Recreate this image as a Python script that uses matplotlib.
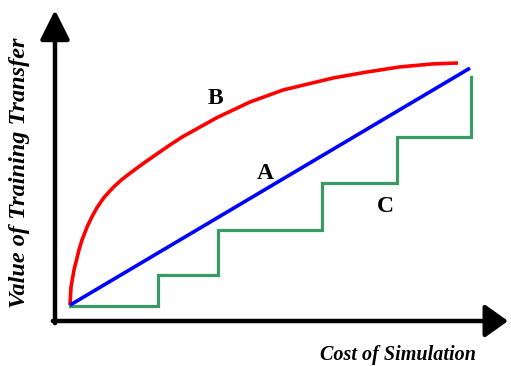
import matplotlib
matplotlib.use("Agg")
import matplotlib.pyplot as plt

# ---- data (arbitrary units: cost on x, value of training transfer on y) ----
line_a_cost = [3.75, 103.75]
line_a_value = [5.3, 84.3]

curve_b_cost = [3.75, 4.0, 4.75, 6.0, 6.75, 8.0, 9.25, 10.5, 12.25, 14.75,
                16.75, 19.0, 22.25, 25.5, 28.75, 32.0, 40.5, 48.75, 57.0,
                69.5, 78.0, 86.25, 94.5, 100.75]
curve_b_value = [5.3, 11.3, 17.0, 23.7, 27.0, 31.3, 34.8, 37.8, 41.2, 44.8,
                 47.2, 49.5, 52.7, 55.7, 58.7, 61.5, 67.8, 73.0, 77.0,
                 81.0, 83.0, 84.7, 85.7, 86.0]

steps_c_cost = [3.75, 25.75, 40.75, 66.75, 85.5, 104.0]
steps_c_value = [5.0, 15.3, 30.3, 46.0, 61.3, 81.3]

labels = ["A", "B", "C"]
label_cost = [52.5, 40.0, 82.5]
label_value = [49.3, 74.0, 38.0]

x_title = "Cost of Simulation"
y_title = "Value of Training Transfer"

# ---- figure ----
W, H = 511, 366
fig = plt.figure(figsize=(W / 100, H / 100), dpi=100)
ax = fig.add_axes([0, 0, 1, 1])
# pixel x = 55 + 4*cost ; pixel y = 321 - 3*value
ax.set_xlim(-55 / 4, (W - 55) / 4)
ax.set_ylim((321 - H) / 3, 321 / 3)
ax.axis("off")

serif = ["Liberation Serif", "DejaVu Serif"]

ax.plot(curve_b_cost, curve_b_value, color="#ff0000", lw=2.6,
        solid_capstyle="butt", solid_joinstyle="round", zorder=3)
ax.plot(line_a_cost, line_a_value, color="#0000ff", lw=2.6,
        solid_capstyle="butt", zorder=3)
ax.plot(steps_c_cost, steps_c_value, color="#3a9a66", lw=2.3,
        drawstyle="steps-post", solid_joinstyle="miter", zorder=2)

for t, cx, cy in zip(labels, label_cost, label_value):
    ax.text(cx, cy, t, fontsize=17, fontweight="bold", family=serif,
            ha="center", va="center")

# axes arrows
x0, y0 = 0.0, 0.0
ax.annotate("", xy=(x0, (321 - 10) / 3), xytext=(x0, y0 - 0.73),
            arrowprops=dict(arrowstyle="-|>,head_length=1.8,head_width=0.9",
                            color="black", lw=3.2, shrinkA=0, shrinkB=0,
                            mutation_scale=10))
ax.annotate("", xy=((508 - 55) / 4, y0), xytext=(x0 - 0.55, y0),
            arrowprops=dict(arrowstyle="-|>,head_length=1.4,head_width=1.0",
                            color="black", lw=3.2, shrinkA=0, shrinkB=0,
                            mutation_scale=10))

ax.text((398 - 55) / 4, (321 - 355) / 3, x_title, fontsize=14.5,
        fontweight="bold", style="italic", family=serif,
        ha="center", va="center")
ax.text((20 - 55) / 4, (321 - 173) / 3, y_title, fontsize=17.5,
        fontweight="bold", style="italic", family=serif, rotation=90,
        ha="center", va="center")

fig.savefig("out.png", dpi=100)
